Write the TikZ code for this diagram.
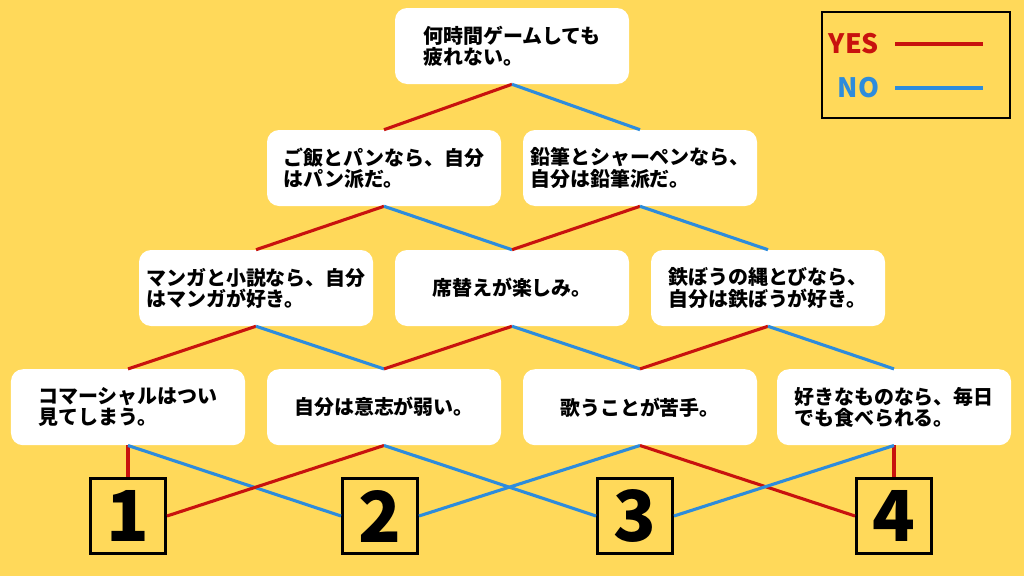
\documentclass[tikz,border=0pt]{standalone}
\usepackage{fontspec}
\newfontfamily\jpfont{Noto Sans CJK JP}[BoldFont={* Black}]
\definecolor{bgyellow}{RGB}{255,217,90}
\definecolor{yesred}{RGB}{200,18,14}
\definecolor{noblue}{RGB}{45,140,220}
\begin{document}
\begin{tikzpicture}[
    qbox/.style={fill=white,rounded corners=0.3cm,minimum width=5.85cm,minimum height=1.9cm,
        inner sep=0pt,align=left,font=\jpfont\bfseries\fontsize{14.2}{15}\selectfont},
    numbox/.style={draw=black,line width=2.1pt,minimum size=1.875cm,inner sep=0pt,
        font=\jpfont\bfseries\fontsize{50}{50}\selectfont},
    yes/.style={draw=yesred,line width=2.2pt},
    no/.style={draw=noblue,line width=2.2pt}]
    \fill [bgyellow] (0,0) rectangle (25.6,-14.4);
    % legend
    \draw [line width=2.1pt] (20.55,-0.3) rectangle (25.25,-2.95);
    \node [anchor=east,text=yesred,font=\jpfont\bfseries\fontsize{19}{19}\selectfont] (yeslbl) at (22.1,-1.1) {YES};
    \node [anchor=east,text=noblue,font=\jpfont\bfseries\fontsize{19}{19}\selectfont] (nolbl) at (22.1,-2.2) {NO};
    \coordinate (yesend) at (24.575,-1.1);
    \coordinate (noend) at (24.575,-2.2);
    \draw [yes] ([xshift=8pt]yeslbl.east) -- (yesend);
    \draw [no] ([xshift=8pt]nolbl.east) -- (noend);
    % questions
    \node [qbox] (q1) at (12.8,-1.15) {何時間ゲームしても\\疲れない。};
    \node [qbox] (q2a) at (9.6,-4.2) {ご飯とパンなら、自分\\はパン派だ。};
    \node [qbox] (q2b) at (16.0,-4.2) {鉛筆とシャーペンなら、\\自分は鉛筆派だ。};
    \node [qbox] (q3a) at (6.4,-7.2) {マンガと小説なら、自分\\はマンガが好き。};
    \node [qbox] (q3b) at (12.8,-7.2) {席替えが楽しみ。};
    \node [qbox] (q3c) at (19.2,-7.2) {鉄ぼうの縄とびなら、\\自分は鉄ぼうが好き。};
    \node [qbox] (q4a) at (3.2,-10.18) {コマーシャルはつい\\見てしまう。};
    \node [qbox] (q4b) at (9.6,-10.18) {自分は意志が弱い。};
    \node [qbox] (q4c) at (16.0,-10.18) {歌うことが苦手。};
    \node [qbox] (q4d) at (22.35,-10.18) {好きなものなら、毎日\\でも食べられる。};
    % results
    \node [numbox] (r1) at (3.2,-12.9) {1};
    \node [numbox] (r2) at (9.5,-12.9) {2};
    \node [numbox] (r3) at (15.875,-12.9) {3};
    \node [numbox] (r4) at (22.35,-12.9) {4};
    % yes / no paths
    \draw [yes] (q1.south) -- (q2a.north);
    \draw [no] (q1.south) -- (q2b.north);
    \draw [yes] (q2a.south) -- (q3a.north);
    \draw [no] (q2a.south) -- (q3b.north);
    \draw [yes] (q2b.south) -- (q3b.north);
    \draw [no] (q2b.south) -- (q3c.north);
    \draw [yes] (q3a.south) -- (q4a.north);
    \draw [no] (q3a.south) -- (q4b.north);
    \draw [yes] (q3b.south) -- (q4b.north);
    \draw [no] (q3b.south) -- (q4c.north);
    \draw [yes] (q3c.south) -- (q4c.north);
    \draw [no] (q3c.south) -- (q4d.north);
    \draw [yes] (q4a.south) -- (r1.north);
    \draw [no] (q4a.south) -- (r2.west);
    \draw [yes] (q4b.south) -- (r1.east);
    \draw [no] (q4b.south) -- (r3.west);
    \draw [no] (q4c.south) -- (r2.east);
    \draw [yes] (q4c.south) -- (r4.west);
    \draw [yes] (q4d.south) -- (r4.north);
    \draw [no] (q4d.south) -- (r3.east);
\end{tikzpicture}
\end{document}
